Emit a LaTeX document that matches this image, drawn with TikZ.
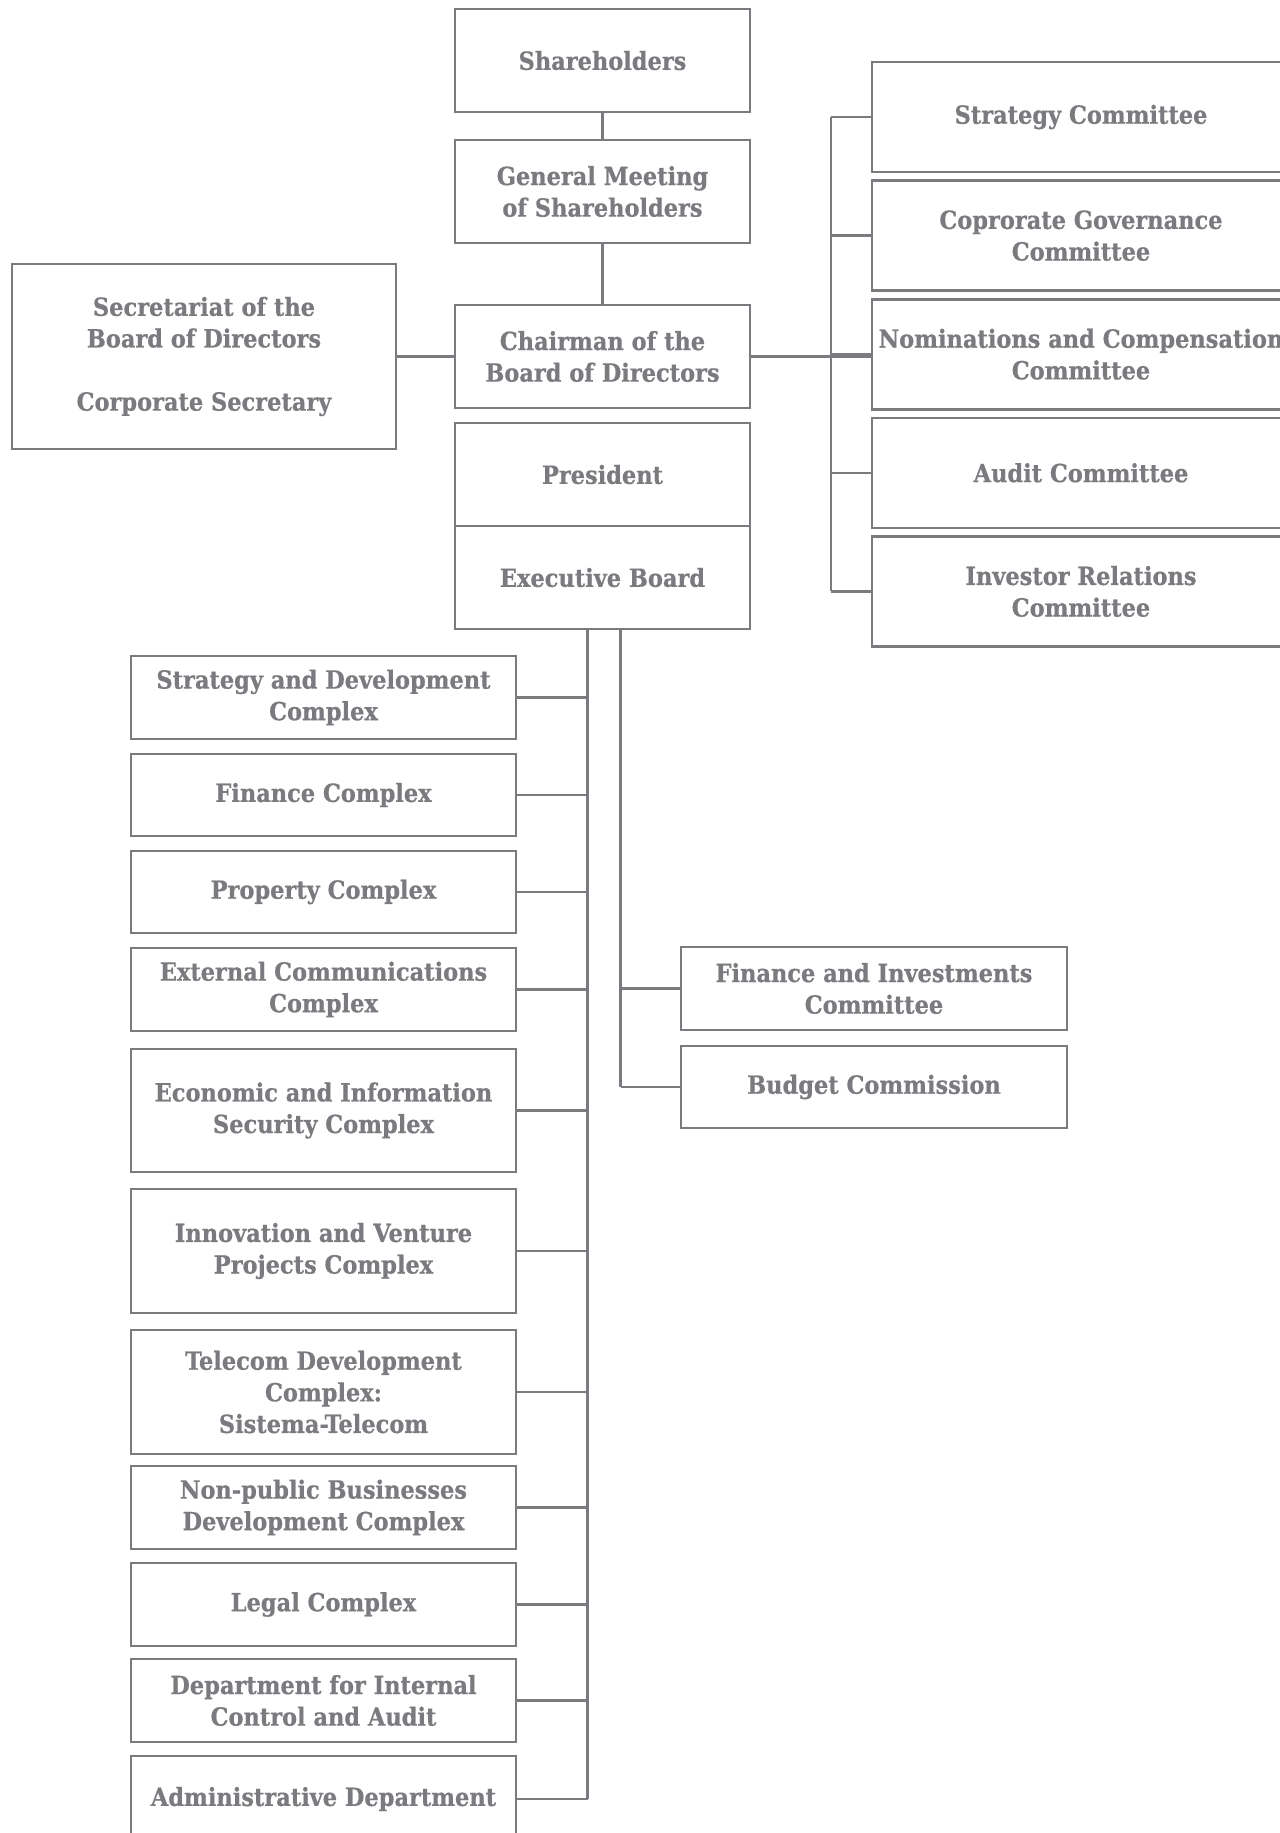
\documentclass[tikz,border=0pt]{standalone}
\usepackage{fontspec}
\setmainfont{DejaVu Serif Condensed}[BoldFeatures={FakeBold=0.6}]
\usetikzlibrary{positioning}
\definecolor{orggray}{RGB}{122,123,127}
\newcommand{\boxline}{1.3pt}
\newcommand{\orgfont}{\fontsize{12.5pt}{15.8pt}\selectfont\bfseries}

\tikzset{
  orgbox/.style={draw=orggray, line width=\boxline, text=orggray, align=center,
    inner sep=0pt, outer sep=0pt, font=\orgfont},
  colbox/.style={orgbox, minimum width=147.5pt, minimum height=51.5pt},
  combox/.style={orgbox, minimum width=209pt, minimum height=55pt},
  cxbox/.style={orgbox, minimum width=192.5pt},
  link/.style={draw=orggray, line width=\boxline}
}

\begin{document}
\begin{tikzpicture}[x=0.5pt,y=-0.5pt]
\useasboundingbox (0,0) rectangle (1280,1833);

      %% middle column
      \node (sh) at (602.5,60.5) [colbox] {Shareholders};
      \node (gm) at (602.5,191.5) [colbox] {General Meeting\\of Shareholders};
      \node (ch) at (602.5,356.5) [colbox] {Chairman of the\\Board of Directors};
      \node (pr) at (602.5,474.5) [colbox] {President};
      \node (eb) [colbox, below=0pt of pr] {Executive Board};
      \draw[link] (sh) -- (gm);
      \draw[link] (gm) -- (ch);

      %% secretariat on the left
      \node (sec) at (204,356.5) [orgbox, minimum width=192pt, minimum height=92.5pt]
      {Secretariat of the\\Board of Directors\\[15.8pt]Corporate Secretary};
      \draw[link] (sec) -- (ch);

      %% committees of the board
      \coordinate (rbus) at (831,0);
      \foreach \t [count=\i] in {{Strategy Committee},
        {Coprorate Governance\\Committee},
        {Nominations and Compensation\\Committee},
        {Audit Committee},
        {Investor Relations\\Committee}}
      { \node (cm\i) at (1081,{117+118.6*(\i-1)}) [combox] {\t};
        \draw[link] (cm\i.west) -- (cm\i.west -| rbus);}
      \draw[link] (cm1.west -| rbus) -- (cm5.west -| rbus);
      \draw[link] (ch.east) -- (ch.east -| cm3.west);

      %% complexes under the executive board
      \coordinate (lbus) at (587.5,0);
      \foreach \y/\h/\t [count=\i] in {697.5/83/{Strategy and Development\\Complex},
        795/82/{Finance Complex},
        892/82/{Property Complex},
        989.5/83/{External Communications\\Complex},
        1110.5/123/{Economic and Information\\Security Complex},
        1251/124/{Innovation and Venture\\Projects Complex},
        1392/124/{Telecom Development\\Complex:\\Sistema-Telecom},
        1507.5/83/{Non-public Businesses\\Development Complex},
        1604.5/83/{Legal Complex},
        1700.5/83/{Department for Internal\\Control and Audit},
        1799/86/{Administrative Department}}
      { \node (cx\i) at (323.5,\y) [cxbox, minimum height=\h*0.5pt] {\t};
        \draw[link] (cx\i.east) -- (cx\i.east -| lbus);}
      \draw[link] (eb.south -| lbus) -- (cx11.east -| lbus);

      %% committees of the executive board
      \coordinate (rbus2) at (620.5,0);
      \node (fi) at (874,988.5) [cxbox, minimum width=193pt, minimum height=41.5pt]
      {Finance and Investments\\Committee};
      \node (bc) at (874,1087) [cxbox, minimum width=193pt, minimum height=41pt]
      {Budget Commission};
      \draw[link] (eb.south -| rbus2) -- (bc.west -| rbus2);
      \draw[link] (fi.west) -- (fi.west -| rbus2);
      \draw[link] (bc.west) -- (bc.west -| rbus2);

\end{tikzpicture}
\end{document}
